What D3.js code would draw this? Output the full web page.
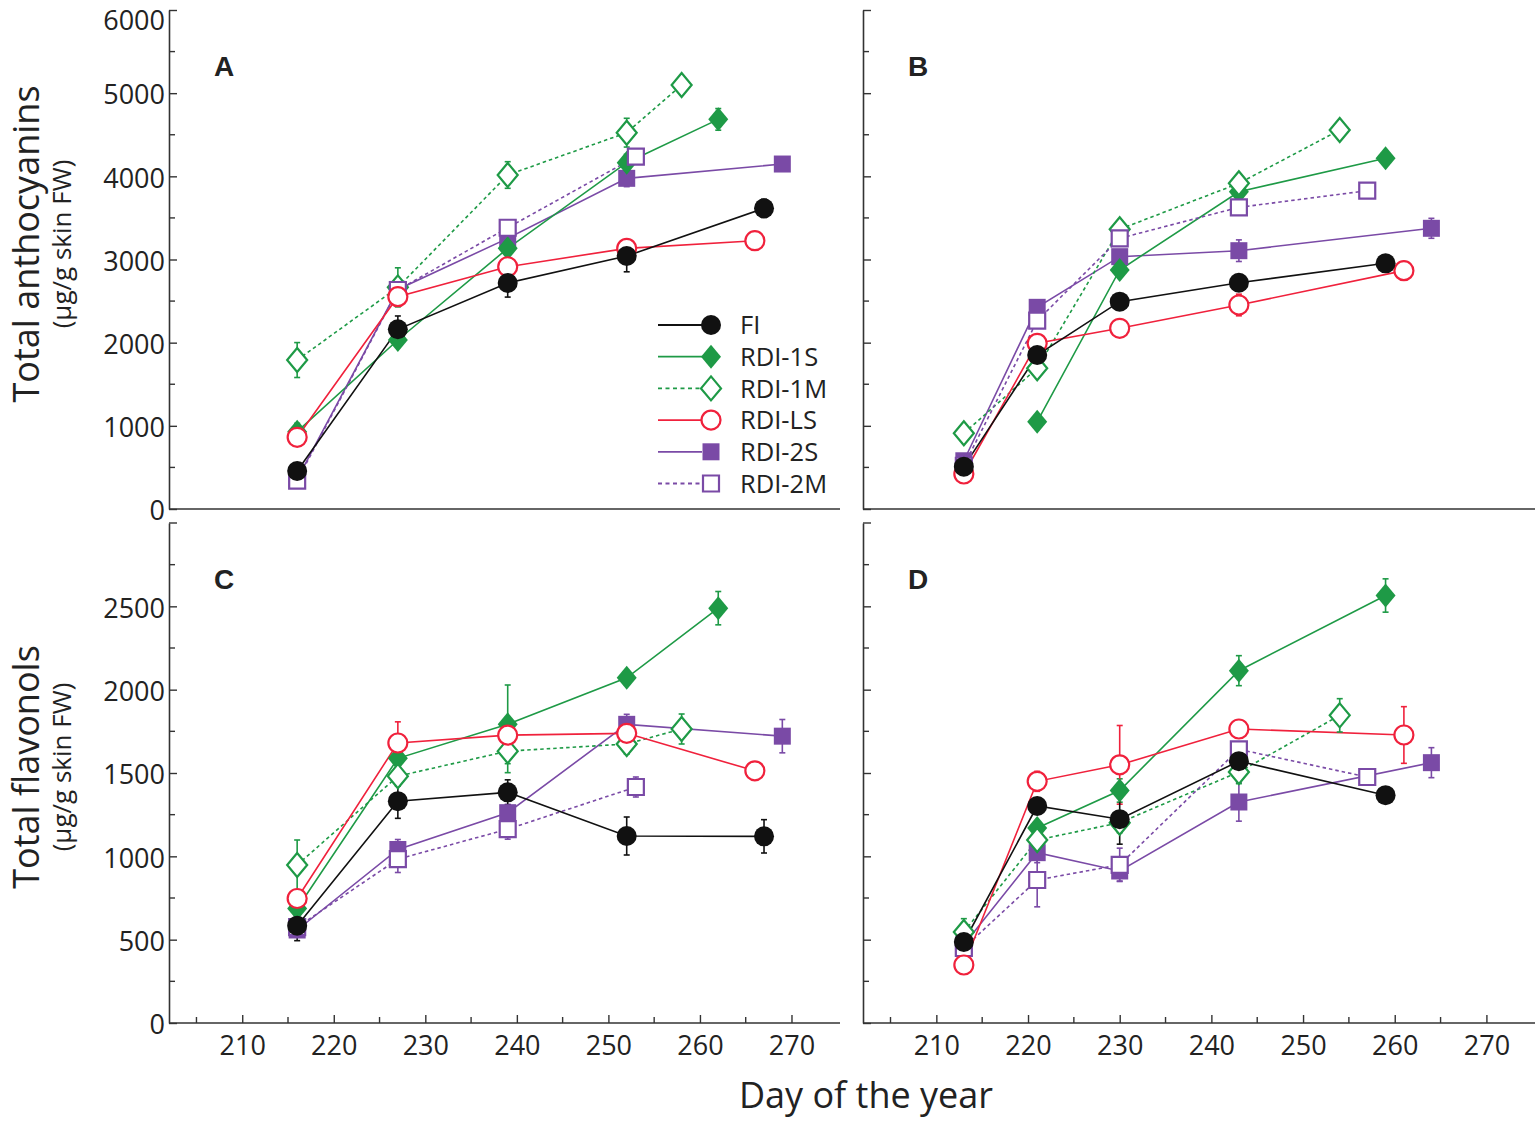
<!DOCTYPE html>
<html>
<head>
<meta charset="utf-8">
<script src="https://cdn.jsdelivr.net/npm/d3@7"></script>
<style>
  body { margin: 0; background: #fff; }
  text { font-family: "Open Sans", "Noto Sans", sans-serif; fill: #222; }
</style>
</head>
<body>
<div id="chart"></div>
<script>
const width = 1535;
const height = 1121;

// series order: FI, RDI-1S, RDI-1M, RDI-LS, RDI-2S, RDI-2M
const seriesNames = ["FI", "RDI-1S", "RDI-1M", "RDI-LS", "RDI-2S", "RDI-2M"];
const seriesColors = ["#111111", "#1e9a46", "#1e9a46", "#f0213c", "#7a4aa6", "#7a4aa6"];
const seriesShapes = ["circle", "diamond", "diamond", "circle", "square", "square"];
const seriesFilled = [true, true, false, false, true, false];
const seriesDashed = [false, false, true, false, false, true];

const xTicks = [210, 220, 230, 240, 250, 260, 270];
const yTicksTop = [0, 1000, 2000, 3000, 4000, 5000, 6000];
const yTicksBottom = [0, 500, 1000, 1500, 2000, 2500];

// panel A - anthocyanins
const daysA = [[216, 227, 239, 252, 267], [216, 227, 239, 252, 262], [216, 227, 239, 252, 258],
               [216, 227, 239, 252, 266], [216, 227, 239, 252, 269], [216, 227, 239, 253]];
const valuesA = [[457, 2161, 2718, 3042, 3615], [930, 2032, 3134, 4164, 4685], [1791, 2665, 4016, 4525, 5098],
                 [862, 2553, 2913, 3134, 3226], [360, 2640, 3254, 3976, 4148], [340, 2633, 3382, 4236]];
const errorsA = [[40, 160, 170, 190, 110], [100, 60, 80, 100, 130], [210, 235, 160, 173, 60],
                 [60, 100, 60, 80, 50], [40, 60, 60, 100, 80], [40, 60, 80, 60]];

// panel B - anthocyanins
const daysB = [[213, 221, 230, 243, 259], [221, 230, 243, 259], [213, 221, 230, 243, 254],
               [213, 221, 230, 243, 261], [213, 221, 230, 243, 264], [213, 221, 230, 243, 257]];
const valuesB = [[509, 1852, 2493, 2721, 2954], [1050, 2874, 3815, 4217], [910, 1692, 3363, 3916, 4557],
                 [421, 1992, 2173, 2453, 2866], [580, 2425, 3034, 3106, 3375], [520, 2264, 3255, 3627, 3827]];
const errorsB = [[40, 60, 60, 60, 80], [50, 80, 80, 80], [60, 60, 60, 60, 50],
                 [40, 60, 60, 130, 60], [40, 60, 80, 130, 120], [40, 60, 60, 60, 60]];

// panel C - flavonols
const daysC = [[216, 227, 239, 252, 267], [216, 227, 239, 252, 262], [216, 227, 239, 252, 258],
               [216, 227, 239, 252, 266], [216, 227, 239, 252, 269], [216, 227, 239, 253]];
const valuesC = [[584, 1331, 1384, 1122, 1120], [687, 1588, 1792, 2071, 2489], [948, 1481, 1631, 1674, 1764],
                 [747, 1680, 1727, 1738, 1513], [558, 1041, 1262, 1792, 1721], [575, 983, 1163, 1416]];
const errorsC = [[90, 103, 75, 114, 100], [50, 40, 236, 40, 100], [150, 60, 129, 60, 90],
                 [40, 127, 40, 40, 30], [30, 60, 50, 60, 100], [30, 80, 60, 60]];

// panel D - flavonols
const daysD = [[213, 221, 230, 243, 259], [221, 230, 243, 259], [213, 221, 230, 243, 254],
               [213, 221, 230, 243, 261], [213, 221, 230, 243, 264], [213, 221, 230, 243, 257]];
const valuesD = [[486, 1302, 1223, 1571, 1367], [1170, 1395, 2114, 2565], [546, 1098, 1202, 1506, 1846],
                 [348, 1450, 1549, 1764, 1728], [470, 1022, 912, 1326, 1562], [450, 858, 949, 1642, 1476]];
const errorsD = [[40, 40, 150, 40, 30], [40, 70, 90, 100], [80, 40, 60, 70, 100],
                 [40, 60, 236, 30, 170], [30, 60, 60, 115, 90], [30, 161, 100, 40, 30]];

const svg = d3.select("#chart").append("svg")
    .attr("width", width)
    .attr("height", height)
    .style("display", "block");

svg.append("rect").attr("width", width).attr("height", height).attr("fill", "#fff");

const panels = [
    { label: "A", left: 169, right: 840, top: 10, bottom: 509, ymax: 6000, yTicks: yTicksTop, minor: 500,
      days: daysA, values: valuesA, errors: errorsA, yLabels: true, xLabels: false, legend: true },
    { label: "B", left: 863, right: 1535, top: 10, bottom: 509, ymax: 6000, yTicks: yTicksTop, minor: 500,
      days: daysB, values: valuesB, errors: errorsB, yLabels: false, xLabels: false },
    { label: "C", left: 169, right: 840, top: 523, bottom: 1023, ymax: 3000, yTicks: yTicksBottom, minor: 250,
      days: daysC, values: valuesC, errors: errorsC, yLabels: true, xLabels: true },
    { label: "D", left: 863, right: 1535, top: 523, bottom: 1023, ymax: 3000, yTicks: yTicksBottom, minor: 250,
      days: daysD, values: valuesD, errors: errorsD, yLabels: false, xLabels: true }
];

function markerPath(shape, filled) {
    if (shape === "circle") {
        const r = filled ? 10 : 9.5;
        return d3.symbol().type(d3.symbolCircle).size(Math.PI * r * r)();
    }
    if (shape === "square") return filled ? "M-8.5,-8.5H8.5V8.5H-8.5Z" : "M-8,-8H8V8H-8Z";
    return "M0,-12L10,0L0,12L-10,0Z";
}

function drawMarker(g, i, cx, cy) {
    const filled = seriesFilled[i];
    g.append("path")
        .attr("d", markerPath(seriesShapes[i], filled))
        .attr("transform", `translate(${cx},${cy})`)
        .attr("fill", filled ? seriesColors[i] : "#fff")
        .attr("stroke", seriesColors[i])
        .attr("stroke-width", filled ? 0 : 2.2);
}

const drawOrder = [4, 1, 2, 5, 3, 0];

panels.forEach(p => {
    const x = d3.scaleLinear().domain([202, 275.3]).range([p.left, p.right]);
    const y = d3.scaleLinear().domain([0, p.ymax]).range([p.bottom, p.top]);
    const g = svg.append("g");

    // y axis with inward ticks
    const yAxis = d3.axisLeft(y).tickValues(p.yTicks).tickSizeInner(-8).tickSizeOuter(0).tickPadding(6)
        .tickFormat(d => d);
    const yg = g.append("g").attr("transform", `translate(${p.left},0)`).call(yAxis);
    yg.select(".domain").attr("stroke", "#333").attr("stroke-width", 1.6);
    yg.selectAll(".tick line").attr("stroke", "#333").attr("stroke-width", 1.4);
    yg.selectAll(".tick text").attr("font-size", 27).attr("fill", "#222")
        .style("font-family", "'Open Sans', sans-serif")
        .attr("x", -4).attr("dy", d => d === 6000 ? "0.72em" : "0.4em");
    if (!p.yLabels) yg.selectAll(".tick text").remove();
    const minorY = d3.range(p.minor, p.ymax + 1, p.minor).filter(v => !p.yTicks.includes(v));
    minorY.forEach(v => {
        const major = v === p.ymax;
        g.append("line")
            .attr("x1", p.left).attr("x2", p.left + (major ? 8 : 6))
            .attr("y1", y(v)).attr("y2", y(v))
            .attr("stroke", "#333").attr("stroke-width", 1.4);
    });

    // x axis
    const xg = g.append("g").attr("transform", `translate(0,${p.bottom})`);
    if (p.xLabels) {
        const xAxis = d3.axisBottom(x).tickValues(xTicks).tickSizeInner(-8).tickSizeOuter(0).tickPadding(12);
        xg.call(xAxis);
        xg.selectAll(".tick line").attr("stroke", "#333").attr("stroke-width", 1.4);
        xg.selectAll(".tick text").attr("font-size", 27).attr("fill", "#222")
            .style("font-family", "'Open Sans', sans-serif")
            .attr("y", 13);
        [205, 215, 225, 235, 245, 255, 265].forEach(v => {
            xg.append("line").attr("x1", x(v)).attr("x2", x(v)).attr("y1", 0).attr("y2", -6)
                .attr("stroke", "#333").attr("stroke-width", 1.4);
        });
    }
    xg.append("line").attr("x1", p.left).attr("x2", p.right).attr("y1", 0).attr("y2", 0)
        .attr("stroke", "#333").attr("stroke-width", 1.6);
    xg.select(".domain").remove();

    // panel letter
    g.append("text")
        .attr("x", p.left + 45).attr("y", p.top + 66)
        .attr("font-size", 28).attr("font-weight", "bold")
        .style("font-family", "'Liberation Sans', Arial, sans-serif")
        .attr("fill", "#111")
        .text(p.label);

    // lines
    const line = d3.line().x(d => x(d[0])).y(d => y(d[1]));
    drawOrder.forEach(i => {
        const pts = p.days[i].map((dd, k) => [dd, p.values[i][k]]);
        g.append("path")
            .attr("d", line(pts))
            .attr("fill", "none")
            .attr("stroke", seriesColors[i])
            .attr("stroke-width", 1.6)
            .attr("stroke-dasharray", seriesDashed[i] ? "3.5,3" : null);
    });

    // error bars
    drawOrder.forEach(i => {
        p.days[i].forEach((dd, k) => {
            const v = p.values[i][k], e = p.errors[i][k];
            const cx = x(dd);
            g.append("line").attr("x1", cx).attr("x2", cx).attr("y1", y(v - e)).attr("y2", y(v + e))
                .attr("stroke", seriesColors[i]).attr("stroke-width", 1.6);
            [v - e, v + e].forEach(t => {
                g.append("line").attr("x1", cx - 3).attr("x2", cx + 3).attr("y1", y(t)).attr("y2", y(t))
                    .attr("stroke", seriesColors[i]).attr("stroke-width", 1.6);
            });
        });
    });

    // markers
    drawOrder.forEach(i => {
        p.days[i].forEach((dd, k) => drawMarker(g, i, x(dd), y(p.values[i][k])));
    });

    if (p.legend) {
        const lg = g.append("g");
        seriesNames.forEach((name, i) => {
            const ly = 325 + i * 31.7;
            lg.append("line").attr("x1", 658).attr("x2", 702).attr("y1", ly).attr("y2", ly)
                .attr("stroke", seriesColors[i]).attr("stroke-width", 1.8)
                .attr("stroke-dasharray", seriesDashed[i] ? "4,3.5" : null);
            drawMarker(lg, i, 711, ly);
            lg.append("text").attr("x", 740).attr("y", ly).attr("dy", "0.36em")
                .attr("font-size", 25.5).attr("fill", "#222").text(name);
        });
    }
});

// axis titles
function yTitle(cy, main) {
    svg.append("text")
        .attr("transform", `translate(39,${cy}) rotate(-90)`)
        .attr("text-anchor", "middle").attr("font-size", 36).attr("fill", "#222")
        .text(main);
    svg.append("text")
        .attr("transform", `translate(71,${cy}) rotate(-90)`)
        .attr("text-anchor", "middle").attr("font-size", 26).attr("fill", "#222")
        .text("(µg/g skin FW)");
}
yTitle(244, "Total anthocyanins");
yTitle(767, "Total flavonols");

svg.append("text")
    .attr("x", 866).attr("y", 1108)
    .attr("text-anchor", "middle").attr("font-size", 36).attr("fill", "#222")
    .text("Day of the year");
</script>
</body>
</html>
